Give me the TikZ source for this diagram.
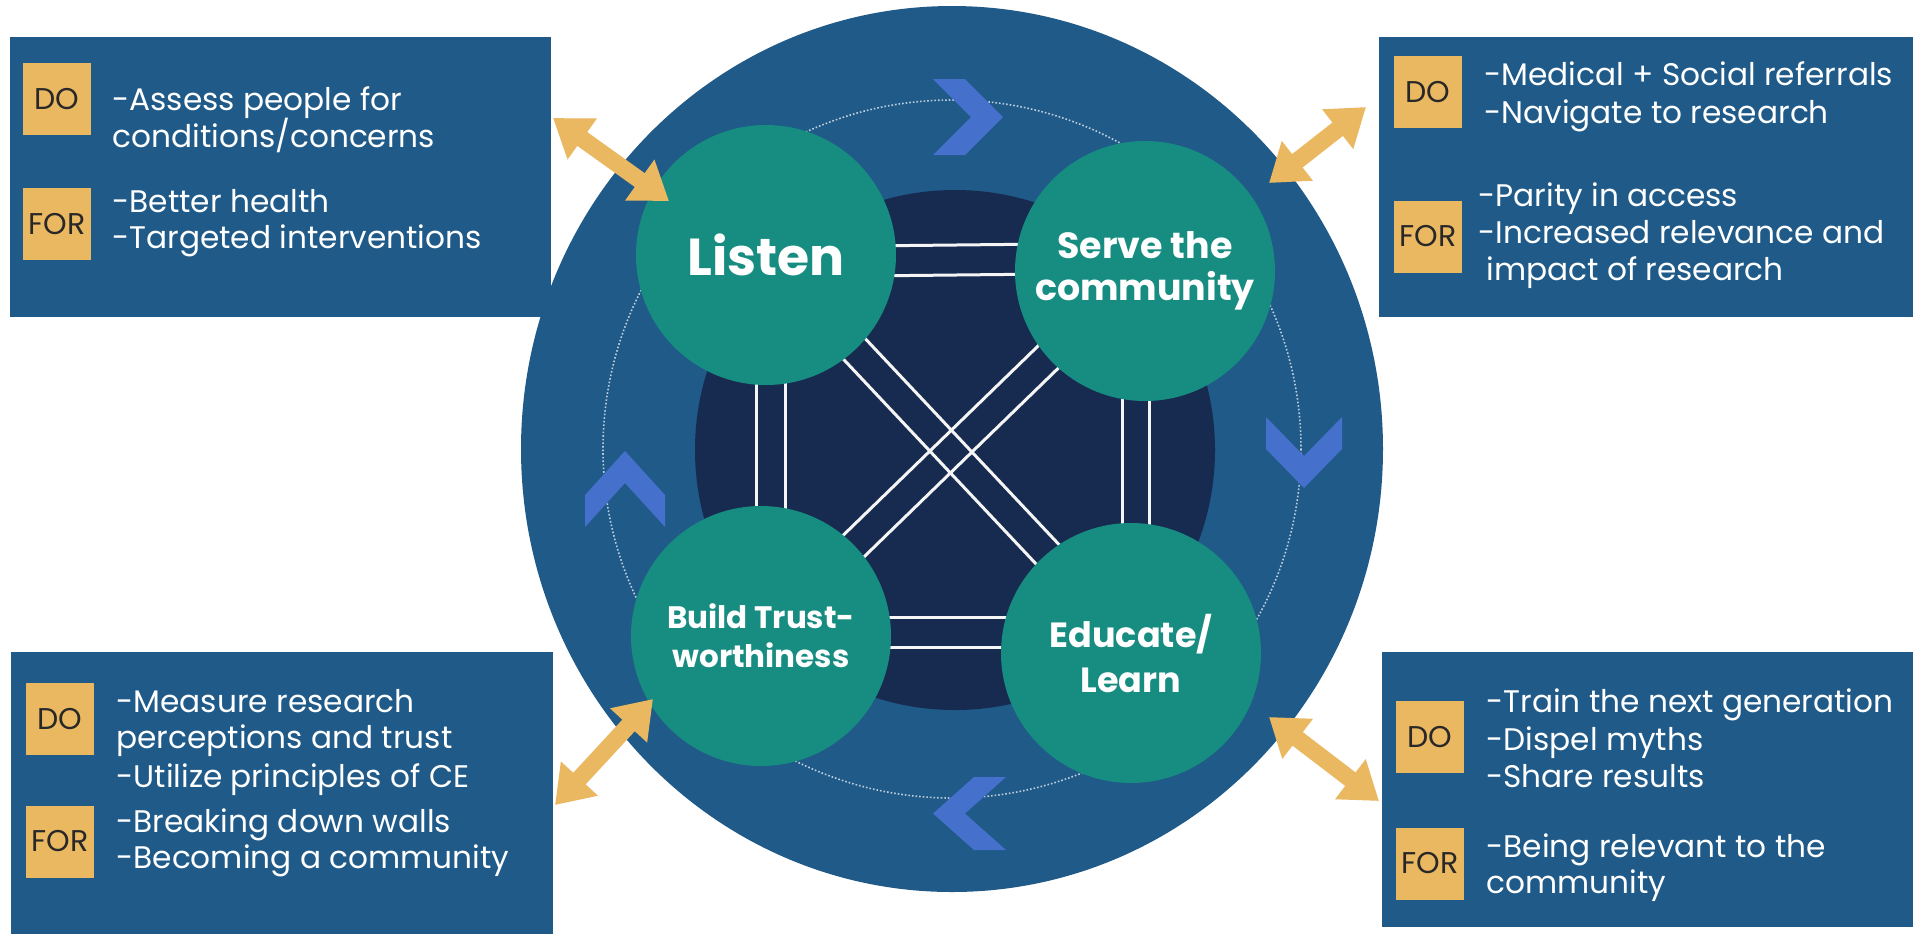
\documentclass[tikz,border=0pt]{standalone}
\usepackage{fontspec}
\setmainfont{Poppins}
\usetikzlibrary{calc,arrows.meta}
\definecolor{boxblue}{RGB}{31,90,136}
\definecolor{navy}{RGB}{23,42,80}
\definecolor{tealc}{RGB}{23,140,128}
\definecolor{sand}{RGB}{235,184,98}
\definecolor{chevblue}{RGB}{69,112,204}
\definecolor{tagtext}{RGB}{40,40,40}
\begin{document}
\begin{tikzpicture}[x=0.5pt,y=-0.5pt,
  panelbox/.style={fill=boxblue, draw=none, inner sep=0pt, anchor=north west},
  tagbox/.style={fill=sand, text=tagtext, inner sep=0pt, minimum width=34pt, minimum height=36pt, font=\fontsize{15}{17}\selectfont},
  txt/.style={anchor=base west, inner sep=0pt, text=white, font=\fontsize{15.6}{18}\selectfont},
  stagecirc/.style={circle, fill=tealc, minimum size=130pt, inner sep=0pt, text=white, align=center},
  wline/.style={draw=white!92!gray, line width=1.5pt},
  ring/.style={draw=white!70!boxblue, line width=0.8pt, densely dotted},
  chev/.style={fill=chevblue},
  twoway/.style={draw=sand, line width=8.5pt, {Triangle[length=18pt,width=24pt]}-{Triangle[length=18pt,width=24pt]}}
]
\useasboundingbox (0,0) rectangle (1913,934);
\fill[white] (0,0) rectangle (1913,934);

% central disc
\fill[boxblue] (952,449) ellipse [x radius=431, y radius=443];
\draw[ring] (952,449) circle [radius=349];
\fill[navy] (955,450) circle [radius=260];

% centres
\coordinate (Lc) at (766,255);
\coordinate (Sc) at (1145,263);
\coordinate (Bc) at (761,636);
\coordinate (Ec) at (1131,643);

% double white links between neighbours
\draw[wline] ($(Lc)+(0,-8)$) -- ($(Sc)+(0,-20)$);
\draw[wline] ($(Lc)+(0,22)$) -- ($(Sc)+(0,10)$);
\draw[wline] ($(Lc)+(-10,0)$) -- ($(Bc)+(-5,0)$);
\draw[wline] ($(Lc)+(19,0)$) -- ($(Bc)+(24,0)$);
\draw[wline] ($(Sc)+(-23,0)$) -- ($(Ec)+(-9,0)$);
\draw[wline] ($(Sc)+(4,0)$) -- ($(Ec)+(18,0)$);
\draw[wline] ($(Bc)+(0,-19)$) -- ($(Ec)+(0,-26)$);
\draw[wline] ($(Bc)+(0,11)$) -- ($(Ec)+(0,4)$);
% crossing diagonals
\foreach \a/\b in {Lc/Ec, Sc/Bc}{
  \draw[wline] ($(\a)!7.5pt!90:(\b)$) -- ($(\b)!7.5pt!-90:(\a)$);
  \draw[wline] ($(\a)!7.5pt!-90:(\b)$) -- ($(\b)!7.5pt!90:(\a)$);
}

% stages
\node[stagecirc, font=\fontsize{26}{30}\selectfont\bfseries] (L) at (Lc) {Listen};
\node[stagecirc, font=\fontsize{18.2}{21}\selectfont\bfseries, yshift=-4pt] (S) at (Sc) {Serve the\\community};
\node[stagecirc, font=\fontsize{15.5}{19.5}\selectfont\bfseries] (B) at (Bc) {Build Trust-\\worthiness};
\node[stagecirc, font=\fontsize{17.5}{22.5}\selectfont\bfseries, yshift=-5pt] (E) at (Ec) {Educate/\\Learn};

% chevrons
\fill[chev] (933,79) -- (965,79) -- (1003,117) -- (965,155) -- (933,155) -- (971,117) -- cycle;
\fill[chev] (1266,417) -- (1304,456) -- (1342,417) -- (1342,449) -- (1304,488) -- (1266,449) -- cycle;
\fill[chev] (1006,777) -- (974,777) -- (933,813.5) -- (974,850) -- (1006,850) -- (965,813.5) -- cycle;
\fill[chev] (585,527) -- (585,495) -- (625,451) -- (665,495) -- (665,527) -- (625,483) -- cycle;

% panels
\node[panelbox, minimum width=270.5pt, minimum height=140pt] (P1) at (10,37) {};
\node[panelbox, minimum width=267pt, minimum height=140pt] (P2) at (1379,37) {};
\node[panelbox, minimum width=271pt, minimum height=141pt] (P3) at (11,652) {};
\node[panelbox, minimum width=265.5pt, minimum height=137.5pt] (P4) at (1382,652) {};

% tags
\node[tagbox] (d1) at (57,99) {DO};
\node[tagbox] (f1) at (57,224) {FOR};
\node[tagbox] (d2) at (1428,92) {DO};
\node[tagbox] (f2) at (1428,236.5) {FOR};
\node[tagbox] (d3) at (60,719) {DO};
\node[tagbox] (f3) at (60,841.5) {FOR};
\node[tagbox] (d4) at (1430,737) {DO};
\node[tagbox] (f4) at (1430,863.5) {FOR};

% texts
\node[txt] (t11) at (112,110) {-Assess people for};
\node[txt] (t12) at (112,147) {conditions/concerns};
\node[txt] (t13) at (112,212) {-Better health};
\node[txt] (t14) at (112,248) {-Targeted interventions};

\node[txt] (t21) at (1484,85) {-Medical + Social referrals};
\node[txt] (t22) at (1484,123) {-Navigate to research};
\node[txt] (t23) at (1478,206) {-Parity in access};
\node[txt] (t24) at (1478,243) {-Increased relevance and};
\node[txt] (t25) at (1486,280) {impact of research};

\node[txt] (t31) at (116,712) {-Measure research};
\node[txt] (t32) at (116,748) {perceptions and trust};
\node[txt] (t33) at (116,787) {-Utilize principles of CE};
\node[txt] (t34) at (116,832) {-Breaking down walls};
\node[txt] (t35) at (116,868) {-Becoming a community};

\node[txt] (t41) at (1486,712) {-Train the next generation};
\node[txt] (t42) at (1486,750) {-Dispel myths};
\node[txt] (t43) at (1486,787) {-Share results};
\node[txt] (t44) at (1486,857) {-Being relevant to the};
\node[txt] (t45) at (1486,893) {community};

% double arrows
\coordinate (a1s) at (553,118);  \coordinate (a1e) at (669,201);
\coordinate (a2s) at (1366,107); \coordinate (a2e) at (1269,183);
\coordinate (a3s) at (555,805);  \coordinate (a3e) at (653,699);
\coordinate (a4s) at (1379,801); \coordinate (a4e) at (1269,717);
\draw[twoway] (a1s) -- (a1e);
\draw[twoway] (a2s) -- (a2e);
\draw[twoway] (a3s) -- (a3e);
\draw[twoway] (a4s) -- (a4e);
\end{tikzpicture}
\end{document}
